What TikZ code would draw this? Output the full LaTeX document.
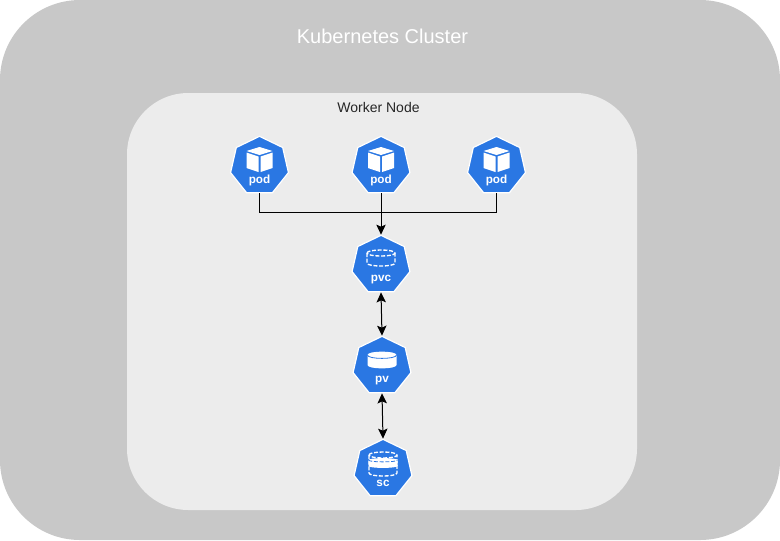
\documentclass[tikz,border=0pt]{standalone}
\usepackage{fontspec}
\setmainfont{Liberation Sans}
\usetikzlibrary{shapes.geometric,arrows.meta}
\definecolor{clusterfill}{HTML}{C8C8C8}
\definecolor{workerfill}{HTML}{ECECEC}
\definecolor{k8sblue}{HTML}{2A77E3}
\tikzset{
  x=0.75pt,y=-0.75pt,
  hept/.style={regular polygon,regular polygon sides=7,minimum size=44.5pt,inner sep=0pt,
    fill=k8sblue,draw=white,line width=0.9pt},
  hlabel/.style={text=white,font=\bfseries\fontsize{8.8}{10}\selectfont,inner sep=0pt,anchor=center},
  conn/.style={draw=black,line width=0.75pt},
  arr/.style={conn,-{Stealth[length=7.5pt,width=7pt,inset=1.5pt]}},
  darr/.style={conn,{Stealth[length=7.5pt,width=7pt,inset=1.5pt]}-{Stealth[length=7.5pt,width=7pt,inset=1.5pt]}},
  icon/.style={line width=1pt,draw=white},
  icond/.style={icon,dash pattern=on 3pt off 1.3pt},
  pics/cube/.style={code={
    \fill[white] (-13,-15) -- (0,-19) -- (13,-15) -- (0,-11) -- cycle;
    \fill[white] (-13,-13.5) -- (-1,-9.5) -- (-1,6) -- (-13,2) -- cycle;
    \fill[white] (13,-13.5) -- (1,-9.5) -- (1,6) -- (13,2) -- cycle;
  }},
  pics/cyld/.style={code={
    \draw[icond] (-14,-12) .. controls (-14,-16) and (14,-16) .. (14,-12)
      .. controls (14,-8) and (-14,-8) .. cycle;
    \draw[icond] (-14,-12) -- (-14,-2) .. controls (-14,2) and (14,2) .. (14,-2) -- (14,-12);
  }},
  pics/cylf/.style={code={
    \fill[white] (-14.5,-11) .. controls (-14.5,-15.5) and (14.5,-15.5) .. (14.5,-11) -- (14.5,-1)
      .. controls (14.5,3.5) and (-14.5,3.5) .. (-14.5,-1) -- cycle;
    \draw[k8sblue,line width=0.6pt] (-14.5,-11) .. controls (-14.5,-6.5) and (14.5,-6.5) .. (14.5,-11);
  }},
  pics/cyls/.style={code={
    \draw[icond] (-14,-14) .. controls (-14,-18) and (14,-18) .. (14,-14)
      .. controls (14,-10) and (-14,-10) .. cycle;
    \draw[icond] (-14,-14) -- (-14,4) .. controls (-14,8) and (14,8) .. (14,4) -- (14,-14);
    \fill[white] (-14.5,-9) .. controls (-14.5,-11.5) and (14.5,-11.5) .. (14.5,-9) -- (14.5,-3)
      .. controls (14.5,-0.5) and (-14.5,-0.5) .. (-14.5,-3) -- cycle;
    \draw[icond,k8sblue,line width=0.6pt] (-14.5,-9) .. controls (-14.5,-6.5) and (14.5,-6.5) .. (14.5,-9);
  }},
}
\begin{document}
\begin{tikzpicture}
\useasboundingbox (0,0) rectangle (780,540);
\fill[clusterfill,rounded corners=60pt] (0,0) rectangle (780,540);
\fill[workerfill,rounded corners=46pt] (127,93) rectangle (637,510);
\node[text=white,font=\fontsize{15}{18}\selectfont,inner sep=0pt] (title) at (382.5,36) {Kubernetes Cluster};
\node[text=black!85,font=\fontsize{10.5}{12}\selectfont,inner sep=0pt] (worker) at (378.5,107) {Worker Node};

\node[hept] (pa) at (259.5,166) {};
\node[hept] (pb) at (381,166) {};
\node[hept] (pc) at (496.5,166) {};
\node[hept] (pvc) at (381,265) {};
\node[hept] (pv) at (382,366) {};
\node[hept] (sc) at (383,469) {};

\foreach \n in {pa,pb,pc}{
  \pic at (\n) {cube};
  \node[hlabel] (\n-l) at ([yshift=-10.5pt]\n.center) {pod};
}
\pic at (pvc) {cyld};
\node[hlabel] (pvc-l) at ([yshift=-10.75pt]pvc.center) {pvc};
\pic at (pv) {cylf};
\node[hlabel] (pv-l) at ([yshift=-10.75pt]pv.center) {pv};
\pic at (sc) {cyls};
\node[hlabel] (sc-l) at ([yshift=-11pt]sc.center) {sc};

\coordinate (joint) at (381,212.5);
\draw[conn] (pa.south) |- (joint);
\draw[conn] (pc.south) |- (joint);
\draw[arr] (pb.south) -- (pvc.corner 1);
\draw[darr] (pvc.south) -- (pv.corner 1);
\draw[darr] (pv.south) -- (sc.corner 1);
\end{tikzpicture}
\end{document}
